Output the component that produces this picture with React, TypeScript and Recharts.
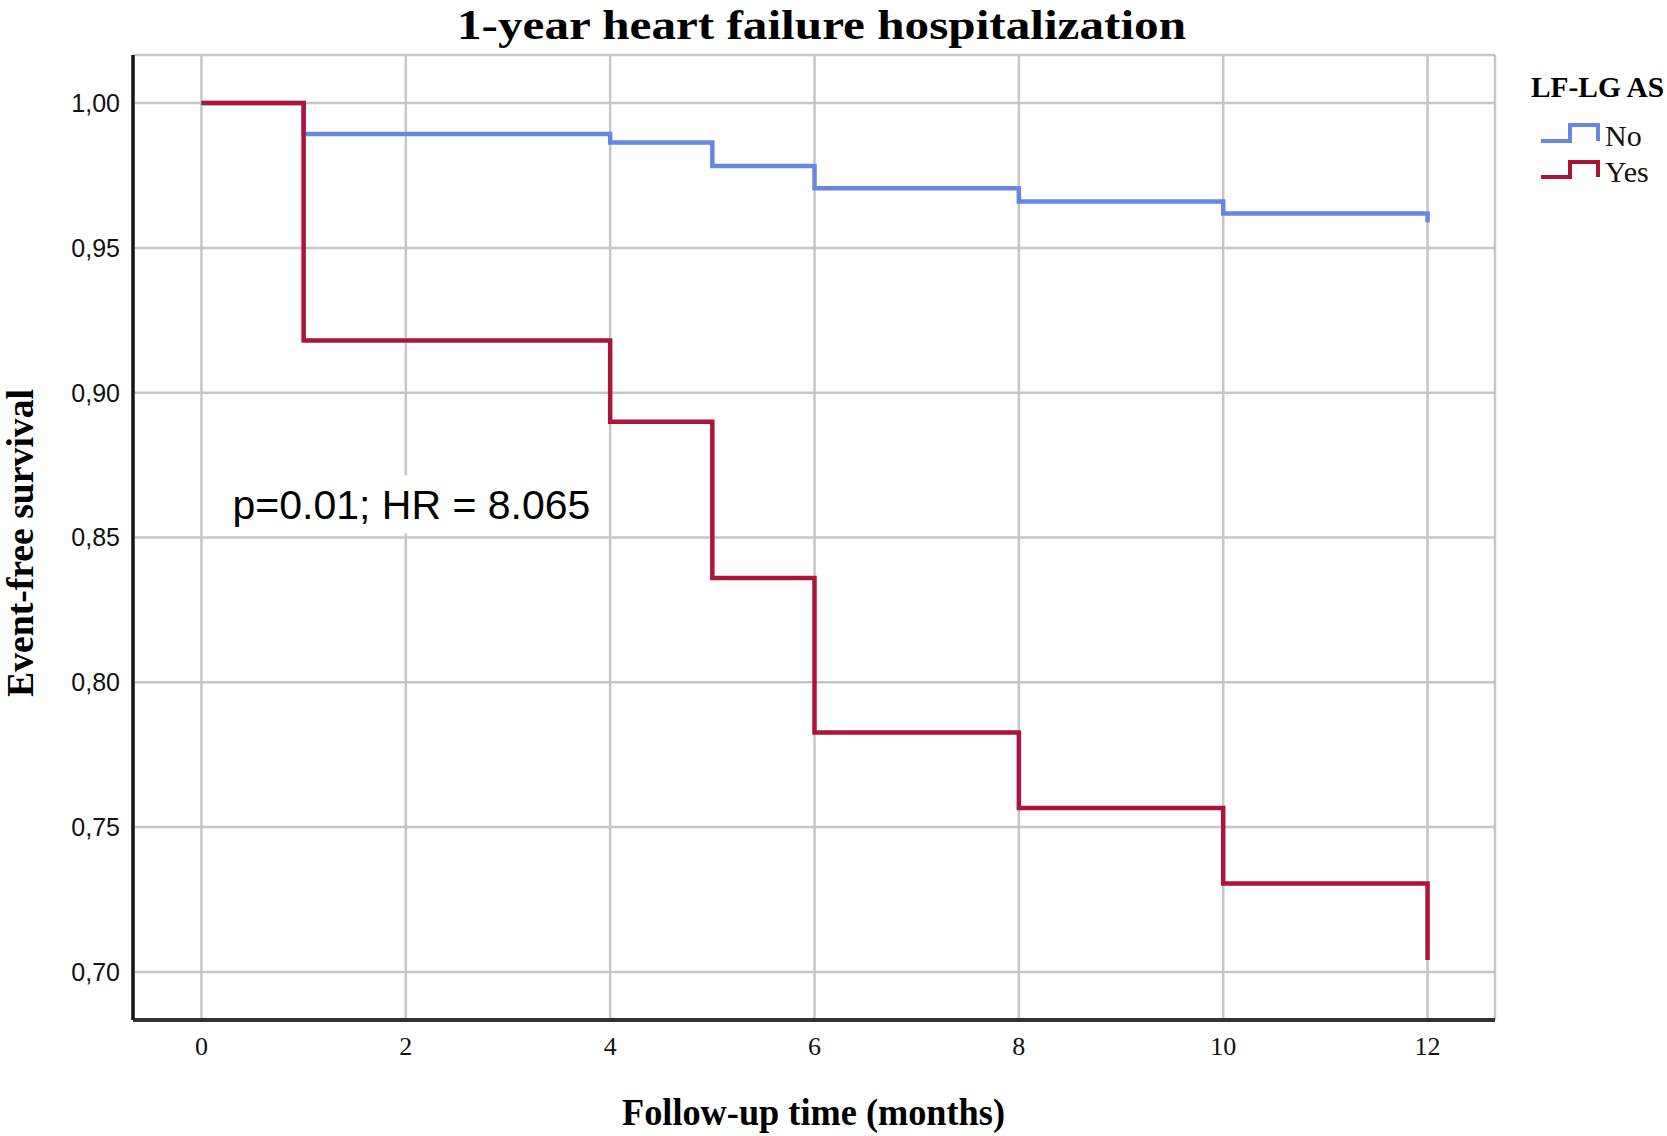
import React from 'react';
import { LineChart, Line, XAxis, YAxis, CartesianGrid, ReferenceArea } from 'recharts';

const monthsNo = [0, 1, 4, 5, 6, 8, 10, 12];
const survivalNo = [1.0, 0.9893, 0.9864, 0.9783, 0.9706, 0.9660, 0.9619, 0.9588];
const monthsYes = [0, 1, 4, 5, 6, 8, 10, 12];
const survivalYes = [1.0, 0.918, 0.8900, 0.8360, 0.7827, 0.7566, 0.7305, 0.7041];

const xTicks = [0, 2, 4, 6, 8, 10, 12];
const yTicks = [0.70, 0.75, 0.80, 0.85, 0.90, 0.95, 1.00];
const seriesNames = ['No', 'Yes'];
const seriesColors = ['#6587e2', '#ad1439'];

const dataNo = monthsNo.map((t, i) => ({ t, s: survivalNo[i] }));
const dataYes = monthsYes.map((t, i) => ({ t, s: survivalYes[i] }));

const W = 1667;
const H = 1136;

const serif = '"Liberation Serif", "DejaVu Serif", serif';

const AnnotationLabel = (props: any) => {
  const vb = props.viewBox || {};
  return (
    <text
      x={vb.x + 28}
      y={vb.y + 44}
      fontFamily='"Liberation Sans", Arial, sans-serif'
      fontSize={41}
      fill="#000"
    >
      p=0.01; HR = 8.065
    </text>
  );
};

export default function App() {
  return (
    <div style={{ position: 'absolute', left: 0, top: 0, width: W, height: H, background: '#fff' }}>
      <LineChart
        width={W}
        height={H}
        margin={{ top: 55, right: 172, bottom: 56, left: 43 }}
      >
        <CartesianGrid stroke="#c6c6c6" strokeWidth={2.5} />
        <XAxis
          type="number"
          dataKey="t"
          domain={[-0.67, 12.66]}
          ticks={xTicks}
          allowDataOverflow
          height={60}
          tickSize={0}
          tickMargin={17}
          tickLine={false}
          axisLine={{ stroke: '#333', strokeWidth: 4 }}
          tick={{ fontFamily: serif, fontSize: 26, fill: '#111' }}
        />
        <YAxis
          type="number"
          domain={[0.6834, 1.0166]}
          ticks={yTicks}
          allowDataOverflow
          width={90}
          tickSize={0}
          tickMargin={13}
          tickLine={false}
          axisLine={{ stroke: '#151515', strokeWidth: 3.5 }}
          tickFormatter={(v: number) => v.toFixed(2).replace('.', ',')}
          tick={{ fontFamily: '"Liberation Sans", Arial, sans-serif', fontSize: 25, fill: '#111' }}
        />
        <ReferenceArea
          x1={0.03}
          x2={3.96}
          y1={0.8515}
          y2={0.8715}
          fill="#fff"
          fillOpacity={1}
          stroke="none"
          ifOverflow="visible"
          label={<AnnotationLabel />}
        />
        <Line
          data={dataNo}
          dataKey="s"
          name={seriesNames[0]}
          type="stepAfter"
          stroke={seriesColors[0]}
          strokeWidth={4.5}
          dot={false}
          activeDot={false}
          isAnimationActive={false}
        />
        <Line
          data={dataYes}
          dataKey="s"
          name={seriesNames[1]}
          type="stepAfter"
          stroke={seriesColors[1]}
          strokeWidth={4.5}
          dot={false}
          activeDot={false}
          isAnimationActive={false}
        />
      </LineChart>
      <svg
        width={W}
        height={H}
        style={{ position: 'absolute', left: 0, top: 0, pointerEvents: 'none' }}
      >
        <text
          x={457}
          y={39}
          fontFamily={serif}
          fontWeight="bold"
          fontSize={42}
          textLength={729}
          lengthAdjust="spacingAndGlyphs"
          fill="#000"
        >
          1-year heart failure hospitalization
        </text>
        <text
          x={622}
          y={1125}
          fontFamily={serif}
          fontWeight="bold"
          fontSize={37}
          textLength={383}
          lengthAdjust="spacingAndGlyphs"
          fill="#000"
        >
          Follow-up time (months)
        </text>
        <text
          transform="translate(33, 697) rotate(-90)"
          x={0}
          y={0}
          fontFamily={serif}
          fontWeight="bold"
          fontSize={37}
          textLength={308}
          lengthAdjust="spacingAndGlyphs"
          fill="#000"
        >
          Event-free survival
        </text>
        <text
          x={1531}
          y={97}
          fontFamily={serif}
          fontWeight="bold"
          fontSize={30}
          textLength={133}
          lengthAdjust="spacingAndGlyphs"
          fill="#000"
        >
          LF-LG AS
        </text>
        {seriesNames.map((name, i) => {
          const top = i === 0 ? 125 : 162;
          const bot = i === 0 ? 141 : 177;
          return (
            <g key={name}>
              <path
                d={`M1541,${bot} L1570,${bot} L1570,${top} L1598,${top} L1598,${bot}`}
                fill="none"
                stroke={seriesColors[i]}
                strokeWidth={4}
              />
              <text
                x={1605}
                y={i === 0 ? 146 : 182}
                fontFamily={serif}
                fontSize={30}
                fill="#111"
              >
                {name}
              </text>
            </g>
          );
        })}
      </svg>
    </div>
  );
}
